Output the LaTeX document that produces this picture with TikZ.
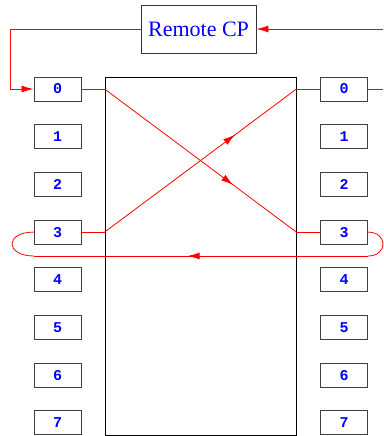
\documentclass[tikz,border=0pt]{standalone}
\usepackage{fontspec}
\setmainfont{Liberation Serif}
\newfontfamily\portfont{Liberation Mono}
\usetikzlibrary{arrows.meta,decorations.markings}

\tikzset{
	port/.style={draw=black!75, line width=0.9pt, minimum width=47pt, minimum height=24pt, inner sep=0pt, text=blue, font=\portfont\bfseries\fontsize{15}{15}\selectfont},
	link/.style={red, line width=0.8pt},
	midtip/.style={postaction={decorate}, decoration={markings, mark=at position #1 with {\arrow{>}}}}
}

\begin{document}
\begin{tikzpicture}[x=1pt,y=-1pt,>={Latex[length=12pt,width=7pt]}]
	\useasboundingbox (0,0) rectangle (383,436);
	% Control Point %
	\node [draw=black!80, line width=0.9pt, minimum width=115pt, minimum height=48pt, inner sep=0pt, text=blue, font=\fontsize{22}{22}\selectfont] (cp) at (198.5,29) {Remote CP};
	% Switch Fabric %
	\node [draw, line width=0.8pt, minimum width=191pt, minimum height=358pt] (fabric) at (200.5,256) {};
	% Ports %
	\foreach \i in {0,...,7}
		{\node [port] (in\i) at (57.5,89+47.7*\i) {\i};
		 \node [port] (out\i) at (344,89+47.7*\i) {\i};}
	\coordinate (turn) at (10,29);
	\coordinate (feed) at (383,29);
	\coordinate (exit) at (383,89);
	\coordinate (a0) at (fabric.west |- in0);
	\coordinate (a3) at (fabric.west |- in3);
	\coordinate (b0) at (fabric.east |- out0);
	\coordinate (b3) at (fabric.east |- out3);
	\coordinate (retR) at (368,256);
	\coordinate (retL) at (34,256);
	% Control Path %
	\draw [link,->] (feed) -- (cp.east);
	\draw [link,->] (cp.west) -- (turn) |- (in0.west);
	% Crossed Connections %
	\draw [link] (in0.east) -- (a0);
	\draw [link,midtip=0.67] (a0) -- (b3);
	\draw [link] (b3) -- (out3.west);
	\draw [link] (in3.east) -- (a3);
	\draw [link,midtip=0.68] (a3) -- (b0);
	\draw [link] (b0) -- (out0.west);
	\draw [link] (out0.east) -- (exit);
	% Loopback %
	\draw [link] (out3.east) .. controls +(20,0) and +(20,0) .. (retR);
	\draw [link,midtip=0.54] (retR) -- (retL);
	\draw [link] (retL) .. controls +(-29,0) and +(-29,0) .. (in3.west);
\end{tikzpicture}
\end{document}
